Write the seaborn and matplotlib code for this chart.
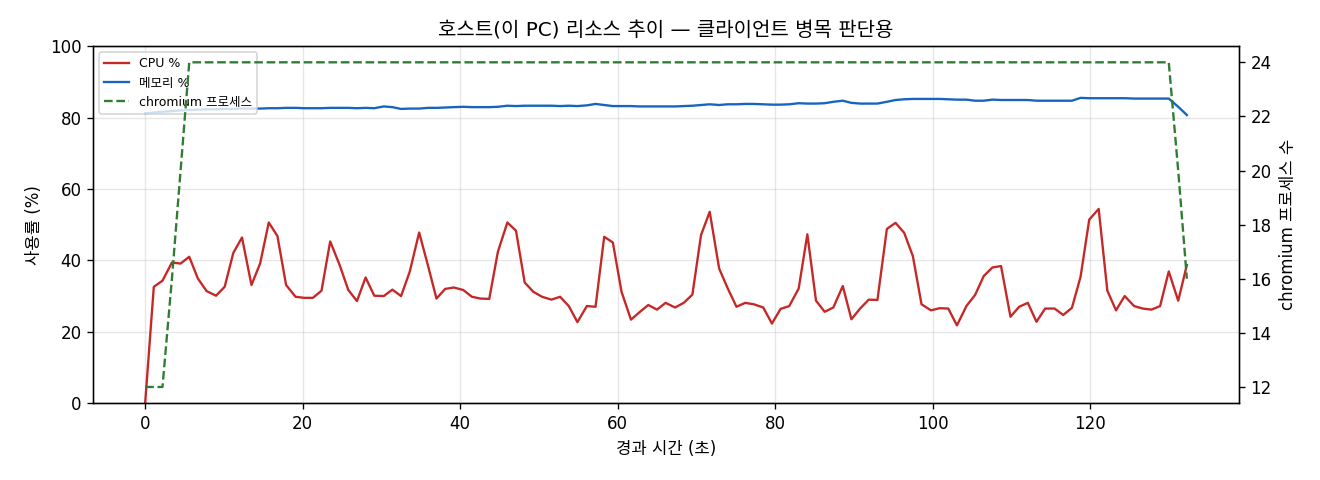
import numpy as np
import pandas as pd
import matplotlib
matplotlib.use("Agg")
import matplotlib.pyplot as plt
import seaborn as sns

# Data (one sample roughly every 1.12 s)
elapsed = [
    0.0, 1.1, 2.2, 3.4, 4.5, 5.6, 6.7, 7.8, 9.0, 10.1, 11.2, 12.3, 13.5, 14.6, 15.7, 16.8,
    17.9, 19.1, 20.2, 21.3, 22.4, 23.5, 24.7, 25.8, 26.9, 28.0, 29.1, 30.3, 31.4, 32.5, 33.6, 34.8,
    35.9, 37.0, 38.1, 39.2, 40.4, 41.5, 42.6, 43.7, 44.8, 46.0, 47.1, 48.2, 49.3, 50.4, 51.6, 52.7,
    53.8, 54.9, 56.1, 57.2, 58.3, 59.4, 60.5, 61.7, 62.8, 63.9, 65.0, 66.1, 67.3, 68.4, 69.5, 70.6,
    71.7, 72.9, 74.0, 75.1, 76.2, 77.3, 78.5, 79.6, 80.7, 81.8, 83.0, 84.1, 85.2, 86.3, 87.4, 88.6,
    89.7, 90.8, 91.9, 93.0, 94.2, 95.3, 96.4, 97.5, 98.6, 99.8, 100.9, 102.0, 103.1, 104.3, 105.4, 106.5,
    107.6, 108.7, 109.9, 111.0, 112.1, 113.2, 114.3, 115.5, 116.6, 117.7, 118.8, 119.9, 121.1, 122.2, 123.3, 124.4,
    125.6, 126.7, 127.8, 128.9, 130.0, 131.2, 132.3,
]

cpu_pct = [
    0.0, 32.6, 34.3, 39.4, 39.1, 41.0, 34.9, 31.4, 30.1, 32.6, 42.1, 46.4, 33.1, 39.1, 50.6, 46.8,
    33.1, 29.8, 29.5, 29.5, 31.5, 45.3, 38.7, 31.7, 28.6, 35.2, 30.1, 30.0, 31.8, 30.0, 36.8, 47.8,
    38.7, 29.3, 32.0, 32.4, 31.7, 29.8, 29.3, 29.2, 42.4, 50.6, 48.3, 33.8, 31.2, 29.8, 29.0, 29.8,
    27.2, 22.7, 27.2, 27.0, 46.6, 45.0, 31.2, 23.4, 25.5, 27.5, 26.2, 28.1, 26.8, 28.1, 30.4, 47.1,
    53.6, 37.7, 32.1, 27.0, 28.1, 27.7, 26.8, 22.3, 26.4, 27.2, 32.1, 47.3, 28.7, 25.6, 26.8, 32.8,
    23.5, 26.5, 29.0, 28.9, 48.8, 50.5, 47.7, 41.2, 27.7, 26.0, 26.6, 26.5, 21.8, 27.2, 30.3, 35.6,
    38.0, 38.4, 24.2, 27.0, 28.1, 22.8, 26.5, 26.5, 24.7, 26.7, 35.4, 51.4, 54.4, 31.5, 26.0, 30.0,
    27.2, 26.5, 26.2, 27.2, 36.9, 28.7, 38.7,
]

mem_pct = [
    81.2, 81.4, 81.6, 81.8, 82.0, 82.1, 82.2, 82.3, 82.3, 82.4, 82.4, 82.5, 82.5, 82.5, 82.6, 82.6,
    82.7, 82.7, 82.6, 82.6, 82.6, 82.7, 82.7, 82.7, 82.6, 82.7, 82.6, 83.1, 82.9, 82.4, 82.5, 82.5,
    82.7, 82.7, 82.8, 82.9, 83.0, 82.9, 82.9, 82.9, 83.0, 83.3, 83.2, 83.3, 83.3, 83.3, 83.3, 83.2,
    83.3, 83.2, 83.4, 83.8, 83.5, 83.2, 83.2, 83.2, 83.1, 83.1, 83.1, 83.1, 83.1, 83.2, 83.3, 83.5,
    83.7, 83.5, 83.7, 83.7, 83.8, 83.8, 83.7, 83.6, 83.6, 83.7, 84.0, 83.9, 83.9, 84.0, 84.4, 84.7,
    84.1, 83.9, 83.9, 83.9, 84.4, 84.9, 85.1, 85.2, 85.2, 85.2, 85.2, 85.1, 85.0, 85.0, 84.7, 84.7,
    85.0, 84.9, 84.9, 84.9, 84.9, 84.7, 84.7, 84.7, 84.7, 84.7, 85.5, 85.4, 85.4, 85.4, 85.4, 85.4,
    85.3, 85.3, 85.3, 85.3, 85.3, 83.0, 80.7,
]

chromium_procs = [
    12, 12, 12, 16, 20, 24, 24, 24, 24, 24, 24, 24, 24, 24, 24, 24,
    24, 24, 24, 24, 24, 24, 24, 24, 24, 24, 24, 24, 24, 24, 24, 24,
    24, 24, 24, 24, 24, 24, 24, 24, 24, 24, 24, 24, 24, 24, 24, 24,
    24, 24, 24, 24, 24, 24, 24, 24, 24, 24, 24, 24, 24, 24, 24, 24,
    24, 24, 24, 24, 24, 24, 24, 24, 24, 24, 24, 24, 24, 24, 24, 24,
    24, 24, 24, 24, 24, 24, 24, 24, 24, 24, 24, 24, 24, 24, 24, 24,
    24, 24, 24, 24, 24, 24, 24, 24, 24, 24, 24, 24, 24, 24, 24, 24,
    24, 24, 24, 24, 24, 20, 16,
]

df = pd.DataFrame({
    "t": elapsed,
    "cpu": cpu_pct,
    "mem": mem_pct,
    "procs": chromium_procs,
})

# Latin/digits in DejaVu, Hangul falls through to Noto CJK
plt.rcParams["font.family"] = ["DejaVu Sans", "Noto Sans CJK KR"]
plt.rcParams["axes.unicode_minus"] = False

fig, ax = plt.subplots(figsize=(11, 4), dpi=120)
fig.subplots_adjust(left=0.0705, right=0.9386, top=0.904, bottom=0.16)

sns.lineplot(data=df, x="t", y="cpu", ax=ax, color="#c62828", linewidth=1.4, label="CPU %")
sns.lineplot(data=df, x="t", y="mem", ax=ax, color="#1565c0", linewidth=1.4, label="메모리 %")
ax.set_ylim(0, 100)
ax.set_xlabel("경과 시간 (초)", fontsize=10)
ax.set_ylabel("사용률 (%)", fontsize=10)
ax.tick_params(labelsize=10)
ax.grid(True, alpha=0.3)

ax2 = ax.twinx()
sns.lineplot(data=df, x="t", y="procs", ax=ax2, color="#2e7d32", linewidth=1.4,
             linestyle="--", label="chromium 프로세스")
ax2.set_ylabel("chromium 프로세스 수", fontsize=10)
ax2.tick_params(labelsize=10)
if ax2.get_legend() is not None:
    ax2.get_legend().remove()

# combine legends from both axes
h1, l1 = ax.get_legend_handles_labels()
h2, l2 = ax2.get_legend_handles_labels()
ax.legend(h1 + h2, l1 + l2, loc="upper left", fontsize=7.5)

ax.set_title("호스트(이 PC) 리소스 추이 — 클라이언트 병목 판단용", fontsize=12)

fig.savefig("out.png")
